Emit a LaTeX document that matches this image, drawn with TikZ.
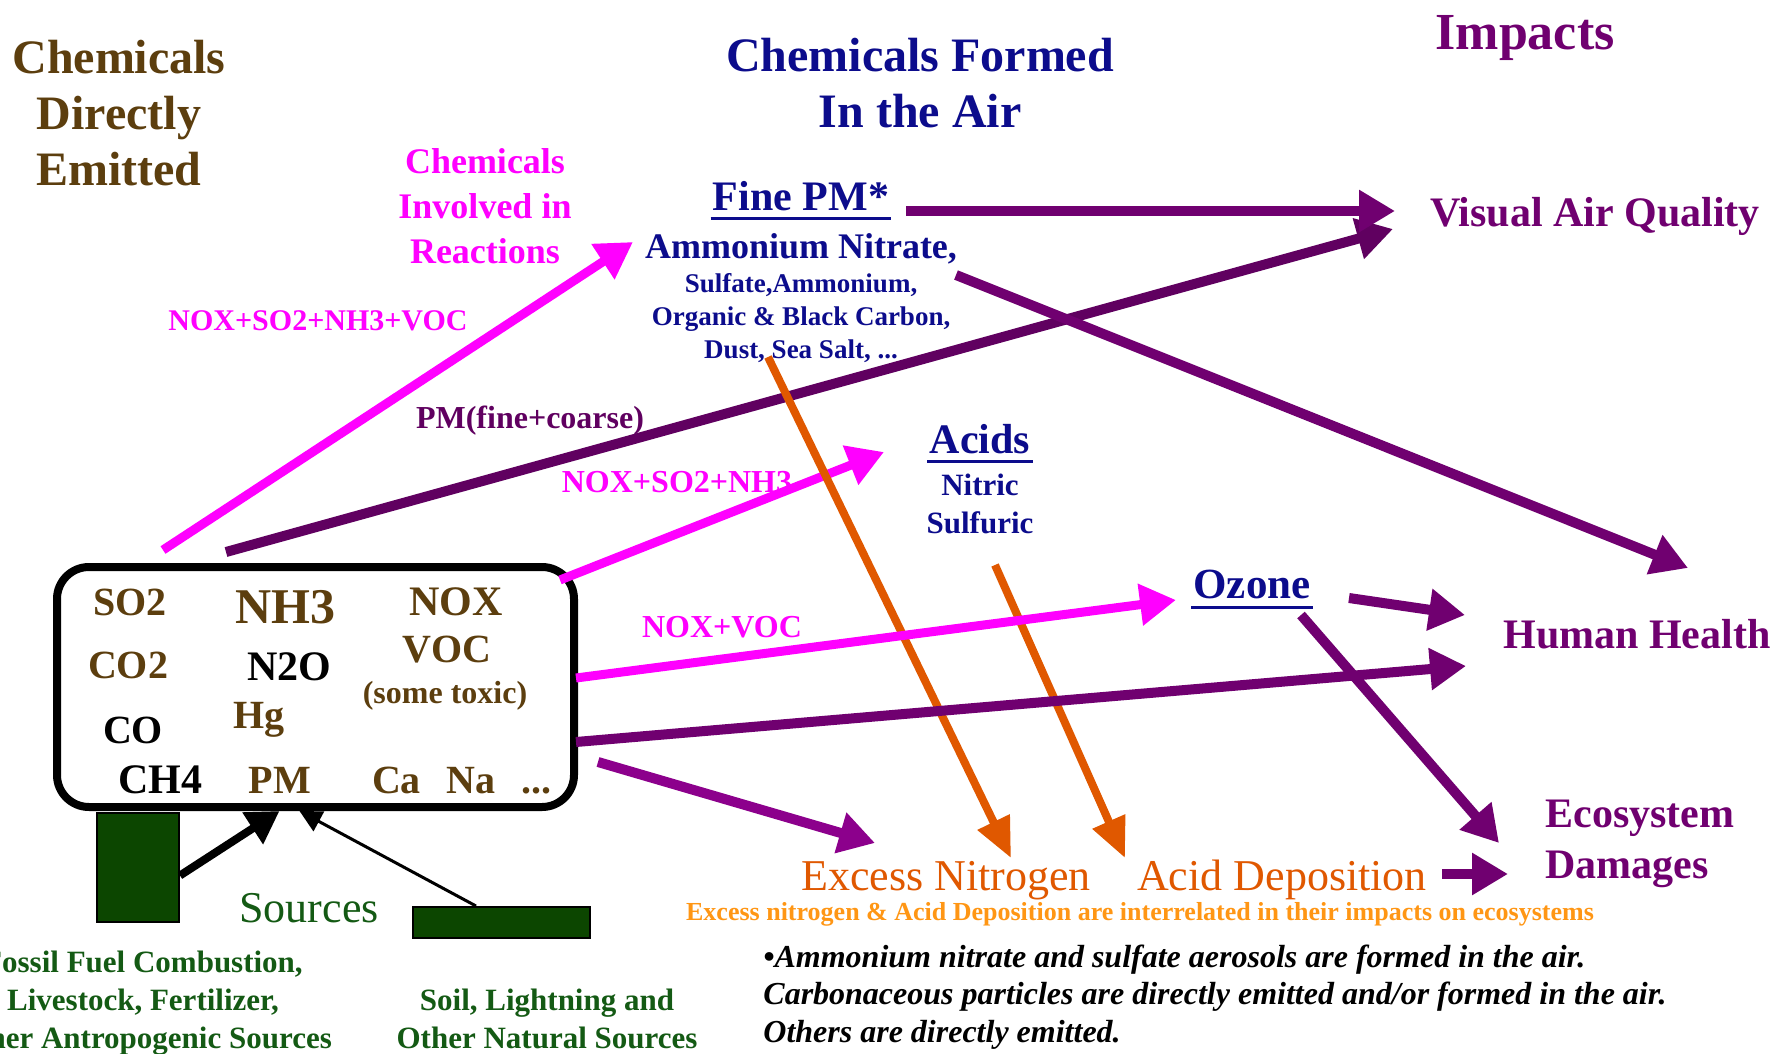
\documentclass[tikz,border=0pt]{standalone}
\usepackage{fontspec}
\setmainfont{Liberation Serif}
\usepackage{xcolor}
\usetikzlibrary{arrows.meta}

\definecolor{navy}{RGB}{12,12,140}
\definecolor{brn}{RGB}{92,62,14}
\definecolor{plum}{RGB}{112,0,112}
\definecolor{lilac}{RGB}{140,0,140}
\definecolor{pmdark}{RGB}{96,0,96}
\definecolor{mag}{RGB}{255,0,255}
\definecolor{rust}{RGB}{224,88,0}
\definecolor{amber}{RGB}{255,150,20}
\definecolor{leaf}{RGB}{20,90,20}
\definecolor{forest}{RGB}{12,70,0}

\begin{document}
\begin{tikzpicture}[
  x=0.5pt, y=-0.5pt,
  every node/.style={inner sep=0pt, anchor=base, align=center},
  head/.style={font=\fontsize{24}{28}\selectfont\bfseries},
  formedtxt/.style={text=navy, font=\fontsize{21}{25}\selectfont\bfseries},
  impact/.style={text=plum, font=\fontsize{21}{25.5}\selectfont\bfseries},
  reac/.style={text=mag, font=\fontsize{15}{18}\selectfont\bfseries},
  chem/.style={text=brn, font=\fontsize{20}{24}\selectfont\bfseries},
  deptxt/.style={text=rust, font=\fontsize{22}{26}\selectfont},
  srctxt/.style={text=leaf, font=\fontsize{15.5}{19}\selectfont\bfseries},
  srcbox/.style={draw, line width=1pt, fill=forest, anchor=center},
  uline/.style={draw=navy, line width=1.5pt, shorten <=-1pt, shorten >=-1pt},
  parr/.style={draw=plum, line width=5pt, -{Triangle[length=18pt,width=20pt]}},
  marr/.style={draw=mag, line width=4.5pt, -{Triangle[length=18pt,width=20pt]}},
  oarr/.style={draw=rust, line width=4pt, -{Triangle[length=20pt,width=17pt]}}
]
\useasboundingbox (0,0) rectangle (1778,1054);
\clip (0,0) rectangle (1778,1054);
\fill[white] (0,0) rectangle (1778,1054);

% column headings (multi-line nodes sit on their last line)
\node[head, text=brn]  (emitted)  at (119,185) {Chemicals\\Directly\\Emitted};
\node[head, text=navy] (formed)   at (920,127) {Chemicals Formed\\In the Air};
\node[head, text=plum, font=\fontsize{26}{30}\selectfont\bfseries] (impacts) at (1525,50) {Impacts};
\node[text=mag, font=\fontsize{18}{22.5}\selectfont\bfseries] (involved) at (485,263) {Chemicals\\Involved in\\Reactions};

% formed in the air
\node[formedtxt] (finepm) at (801,210) {Fine PM*};
\node[formedtxt, font=\fontsize{18}{22}\selectfont\bfseries] (nitrate) at (801,258) {Ammonium Nitrate,};
\node[formedtxt, font=\fontsize{13.5}{16.5}\selectfont\bfseries] (pmlist) at (801,358)
  {Sulfate,Ammonium,\\Organic \& Black Carbon,\\Dust, Sea Salt, ...};
\node[formedtxt] (acids) at (980,453) {Acids};
\node[formedtxt, font=\fontsize{15.5}{19}\selectfont\bfseries] (acidlist) at (980,533) {Nitric\\Sulfuric};
\node[formedtxt, font=\fontsize{21.5}{25}\selectfont\bfseries] (ozone) at (1252,598) {Ozone};
\draw[uline] ([yshift=-4pt]finepm.base west) -- ([yshift=-4pt]finepm.base east);
\draw[uline] ([yshift=-4pt]acids.base west)  -- ([yshift=-4pt]acids.base east);
\draw[uline] ([yshift=-4.5pt]ozone.base west) -- ([yshift=-4.5pt]ozone.base east);

% impacts
\node[impact] (visual) at (1595,227) {Visual Air Quality};
\node[impact] (health) at (1637,648) {Human Health};
\node[impact, anchor=base west, align=left] (eco) at (1545,878) {Ecosystem\\Damages};

% deposition
\node[deptxt] (exnit)   at (946,890)  {Excess Nitrogen};
\node[deptxt] (aciddep) at (1282,890) {Acid Deposition};
\node[text=amber, font=\fontsize{13}{15}\selectfont\bfseries] (interrel) at (1140,920)
  {Excess nitrogen \& Acid Deposition are interrelated in their impacts on ecosystems};
\node[anchor=base west, align=left, font=\fontsize{16}{18.75}\selectfont\bfseries\itshape] (notes) at (763,1042)
  {\textbullet Ammonium nitrate and sulfate aerosols are formed in the air.\\
   Carbonaceous particles are directly emitted and/or formed in the air.\\
   Others are directly emitted.};

% arrow labels
\node[reac] (lblall) at (318,330) {NOX+SO2+NH3+VOC};
\node[text=pmdark, font=\fontsize{16}{18}\selectfont\bfseries] (lblpm) at (530,428) {PM(fine+coarse)};
\node[reac, font=\fontsize{16}{18}\selectfont\bfseries] (lblacid)  at (677,492) {NOX+SO2+NH3};
\node[reac, font=\fontsize{16}{18}\selectfont\bfseries] (lblozone) at (722,637) {NOX+VOC};

% emissions box
\node[draw, line width=4pt, rounded corners=16pt, minimum width=258.5pt,
      minimum height=120pt, anchor=center] (emis) at (315.5,687) {};
\node[chem] (so2) at (130,615) {SO2};
\node[chem, font=\fontsize{25}{28}\selectfont\bfseries] (nh3) at (285,623) {NH3};
\node[chem, font=\fontsize{21}{24}\selectfont\bfseries] (nox) at (456,615) {NOX};
\node[chem] (co2) at (128,678) {CO2};
\node[chem, text=black, font=\fontsize{21}{24}\selectfont\bfseries] (n2o) at (289,680) {N2O};
\node[chem] (voc) at (447,662) {VOC};
\node[chem, font=\fontsize{16}{18}\selectfont\bfseries] (toxic) at (445,703) {(some toxic)};
\node[chem] (hg) at (259,728) {Hg};
\node[chem, text=black] (co) at (133,743) {CO};
\node[chem, text=black, font=\fontsize{21}{24}\selectfont\bfseries] (ch4) at (160,793) {CH4};
\node[chem] (pm) at (280,793) {PM};
\node[chem] (cana) at (462,793) {Ca\hspace{13pt}Na\hspace{13pt}...};

% sources
\node[srcbox, minimum width=41pt, minimum height=54.5pt] (anthbar) at (138,867.5) {};
\node[srcbox, minimum width=88.5pt, minimum height=15.5pt] (natbar) at (501.5,922.5) {};
\node[text=leaf, font=\fontsize{22}{26}\selectfont] (sources) at (309,922) {Sources};
\node[srctxt] (anthro)  at (143,1048) {Fossil Fuel Combustion,\\Livestock, Fertilizer,\\Other Antropogenic Sources};
\node[srctxt] (natural) at (547,1048) {Soil, Lightning and\\Other Natural Sources};

\draw[line width=4pt, -{Triangle[length=16pt,width=18pt]}]
  ([yshift=-4pt]anthbar.east) -- ([xshift=-18pt]emis.south);
\draw[line width=1.5pt, -{Triangle[length=11pt,width=11pt]}]
  ([xshift=-12.75pt]natbar.north) -- ([xshift=-8pt]emis.south);

% arrow ends
\coordinate (pmS) at (226,552);   \coordinate (pmE) at (1393,229);
\coordinate (fnS) at (163,550);   \coordinate (fnE) at (633,242);
\coordinate (acS) at (560,580);   \coordinate (acE) at (884,452);
\coordinate (ozS) at (576,678);   \coordinate (ozE) at (1176,600);
\coordinate (hhS) at (576,742);   \coordinate (hhE) at (1466,666);
\coordinate (enS) at (598,762);   \coordinate (enE) at (875,843);
\coordinate (vaS) at (906,211);   \coordinate (vaE) at (1395,211);
\coordinate (anS) at (956,275);   \coordinate (anE) at (1688,568);
\coordinate (o1S) at (1349,598);  \coordinate (o1E) at (1465,615);
\coordinate (o2S) at (1301,615);  \coordinate (o2E) at (1499,843);
\coordinate (adS) at (1442,874);  \coordinate (adE) at (1508,874);
\coordinate (n1S) at (768,357);   \coordinate (n1E) at (1011,858);
\coordinate (n2S) at (995,565);   \coordinate (n2E) at (1125,858);

\draw[parr, draw=pmdark] (pmS) -- (pmE);
\draw[marr] (fnS) -- (fnE);
\draw[marr] (acS) -- (acE);
\draw[oarr] (n1S) -- (n1E);
\draw[oarr] (n2S) -- (n2E);
\draw[marr] (ozS) -- (ozE);
\draw[parr] (hhS) -- (hhE);
\draw[parr, draw=lilac] (enS) -- (enE);
\draw[parr] (vaS) -- (vaE);
\draw[parr] (anS) -- (anE);
\draw[parr] (o1S) -- (o1E);
\draw[parr] (o2S) -- (o2E);
\draw[parr] (adS) -- (adE);
\end{tikzpicture}
\end{document}
